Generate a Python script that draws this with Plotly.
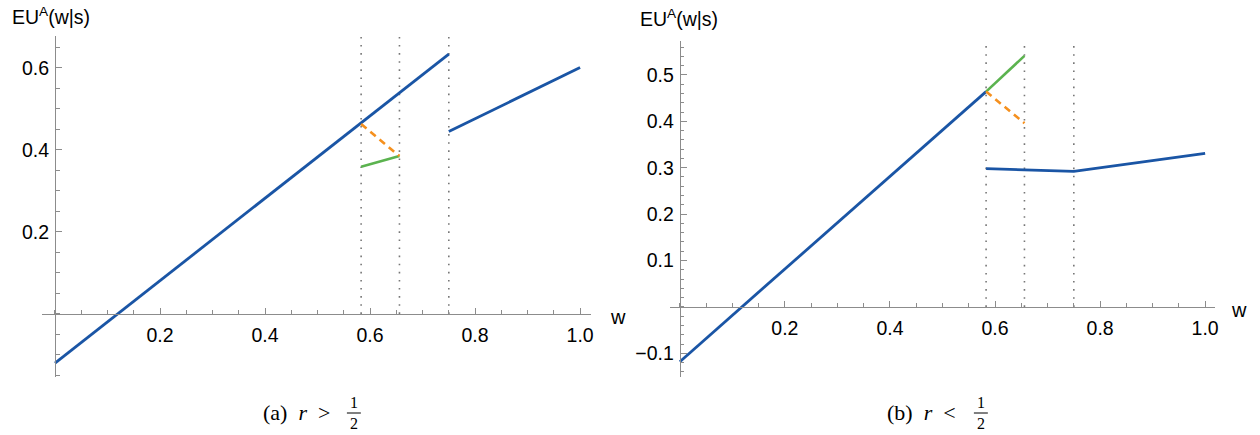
import plotly.graph_objects as go

# ---------------- data ----------------
# panel (a): r > 1/2
a_blue1_w = [0.0, 0.75]
a_blue1_y = [-0.12, 0.634]
a_blue2_w = [0.75, 1.0]
a_blue2_y = [0.445, 0.601]
a_orange_w = [0.583, 0.656]
a_orange_y = [0.463, 0.385]
a_green_w = [0.583, 0.656]
a_green_y = [0.359, 0.385]
a_vlines = [0.583, 0.656, 0.75]
a_yticks = [0.2, 0.4, 0.6]

# panel (b): r < 1/2
b_blue1_w = [0.0, 0.583]
b_blue1_y = [-0.118, 0.464]
b_blue2_w = [0.583, 0.75, 1.0]
b_blue2_y = [0.298, 0.292, 0.331]
b_orange_w = [0.583, 0.656]
b_orange_y = [0.464, 0.396]
b_green_w = [0.583, 0.656]
b_green_y = [0.464, 0.541]
b_vlines = [0.583, 0.656, 0.75]
b_yticks = [-0.1, 0.1, 0.2, 0.3, 0.4, 0.5]

xticks = [0.2, 0.4, 0.6, 0.8, 1.0]
xtick_text = ["0.2", "0.4", "0.6", "0.8", "1.0"]

# ---------------- styling ----------------
W, H = 1260, 435
BLUE = "#1a55a5"
ORANGE = "#f5901e"
GREEN = "#5bb34f"
AXIS = "#8c8c8c"
SANS = "Liberation Sans, Arial, sans-serif"
SERIF = "Liberation Serif, DejaVu Serif, serif"

panels = [
    dict(xr=[-0.025, 1.021], yr=[-0.154, 0.678], xpx=(42, 593), ypx=(36, 377),
         ydt=0.05, yticks=a_yticks, ytext=["0.2", "0.4", "0.6"],
         blue=[(a_blue1_w, a_blue1_y), (a_blue2_w, a_blue2_y)],
         orange=(a_orange_w, a_orange_y), green=(a_green_w, a_green_y),
         vl=a_vlines, labx=10, laby=16, wx=610),
    dict(xr=[-0.019, 1.019], yr=[-0.151, 0.573], xpx=(672, 1219), ypx=(41, 377),
         ydt=0.02, yticks=b_yticks, ytext=["\u22120.1", "0.1", "0.2", "0.3", "0.4", "0.5"],
         blue=[(b_blue1_w, b_blue1_y), (b_blue2_w, b_blue2_y)],
         orange=(b_orange_w, b_orange_y), green=(b_green_w, b_green_y),
         vl=b_vlines, labx=640, laby=18, wx=1233),
]

fig = go.Figure()
layout = dict(width=W, height=H, margin=dict(l=0, r=0, t=0, b=0),
              paper_bgcolor="white", plot_bgcolor="rgba(0,0,0,0)",
              showlegend=False, annotations=[], shapes=[])

for i, p in enumerate(panels):
    xa = "x" if i == 0 else "x2"
    ya = "y" if i == 0 else "y2"
    xkey = "xaxis" if i == 0 else "xaxis2"
    ykey = "yaxis" if i == 0 else "yaxis2"
    x0p, x1p = p["xpx"]
    ytop, ybot = p["ypx"]
    xdom = [x0p / W, x1p / W]
    ydom = [(H - ybot) / H, (H - ytop) / H]
    # paper position of the zero lines
    xpos0 = xdom[0] + (0 - p["xr"][0]) / (p["xr"][1] - p["xr"][0]) * (xdom[1] - xdom[0])
    ypos0 = ydom[0] + (0 - p["yr"][0]) / (p["yr"][1] - p["yr"][0]) * (ydom[1] - ydom[0])

    # vertical dotted lines
    for v in p["vl"]:
        fig.add_trace(go.Scatter(x=[v, v], y=[0, p["yr"][1]], mode="lines",
                                 line=dict(color="#777777", width=1.6, dash="1.6px,6.5px"),
                                 xaxis=xa, yaxis=ya, hoverinfo="skip"))
    for (bw, by) in p["blue"]:
        fig.add_trace(go.Scatter(x=bw, y=by, mode="lines",
                                 line=dict(color=BLUE, width=2.8),
                                 xaxis=xa, yaxis=ya))
    fig.add_trace(go.Scatter(x=p["green"][0], y=p["green"][1], mode="lines",
                             line=dict(color=GREEN, width=2.6),
                             xaxis=xa, yaxis=ya))
    fig.add_trace(go.Scatter(x=p["orange"][0], y=p["orange"][1], mode="lines",
                             line=dict(color=ORANGE, width=2.6, dash="7px,5px"),
                             xaxis=xa, yaxis=ya))

    layout[xkey] = dict(domain=xdom, range=p["xr"], anchor="free", position=ypos0,
                        showline=True, linecolor=AXIS, linewidth=1.2,
                        showgrid=False, zeroline=False,
                        tickvals=xticks, ticktext=xtick_text,
                        ticks="inside", ticklen=6, tickcolor=AXIS, tickwidth=1,
                        ticklabelstandoff=4,
                        tickfont=dict(family=SANS, size=19.5, color="black"),
                        minor=dict(tick0=0, dtick=0.05, ticks="inside", ticklen=3.5,
                                   tickcolor=AXIS, showgrid=False),
                        fixedrange=True)
    layout[ykey] = dict(domain=ydom, range=p["yr"], anchor="free", position=xpos0,
                        showline=True, linecolor=AXIS, linewidth=1.2,
                        showgrid=False, zeroline=False,
                        tickvals=p["yticks"], ticktext=p["ytext"],
                        ticks="inside", ticklen=6, tickcolor=AXIS, tickwidth=1,
                        ticklabelstandoff=2,
                        tickfont=dict(family=SANS, size=19.5, color="black"),
                        minor=dict(tick0=0, dtick=p["ydt"], ticks="inside", ticklen=3.5,
                                   tickcolor=AXIS, showgrid=False),
                        fixedrange=True)

    # axis labels
    layout["annotations"].append(dict(
        text="EU<sup>A</sup>(w|s)", xref="paper", yref="paper",
        x=p["labx"] / W, y=(H - p["laby"]) / H,
        xanchor="left", yanchor="middle", showarrow=False,
        font=dict(family=SANS, size=19.5, color="black")))
    layout["annotations"].append(dict(
        text="w", xref="paper", yref="paper",
        x=p["wx"] / W, y=ypos0 - 3 / H,
        xanchor="left", yanchor="middle", showarrow=False,
        font=dict(family=SANS, size=20, color="black")))

# captions
caps = [("(a)", ">", 262, 355), ("(b)", "<", 888, 984)]
for lab, op, xs, xf in caps:
    layout["annotations"].append(dict(
        text=f"{lab}&nbsp;&nbsp;<i>r</i>&nbsp;&nbsp;{op}", xref="paper", yref="paper",
        x=xs / W, y=(H - 412) / H, xanchor="left", yanchor="middle", showarrow=False,
        font=dict(family=SERIF, size=22, color="black")))
    layout["annotations"].append(dict(
        text="1", xref="paper", yref="paper", x=xf / W, y=(H - 402) / H,
        xanchor="center", yanchor="middle", showarrow=False,
        font=dict(family=SERIF, size=16, color="black")))
    layout["annotations"].append(dict(
        text="2", xref="paper", yref="paper", x=xf / W, y=(H - 423) / H,
        xanchor="center", yanchor="middle", showarrow=False,
        font=dict(family=SERIF, size=16, color="black")))
    layout["shapes"].append(dict(
        type="line", xref="paper", yref="paper",
        x0=(xf - 7) / W, x1=(xf + 7) / W, y0=(H - 413) / H, y1=(H - 413) / H,
        line=dict(color="black", width=1)))

fig.update_layout(**layout)
fig.write_html("out.html")
